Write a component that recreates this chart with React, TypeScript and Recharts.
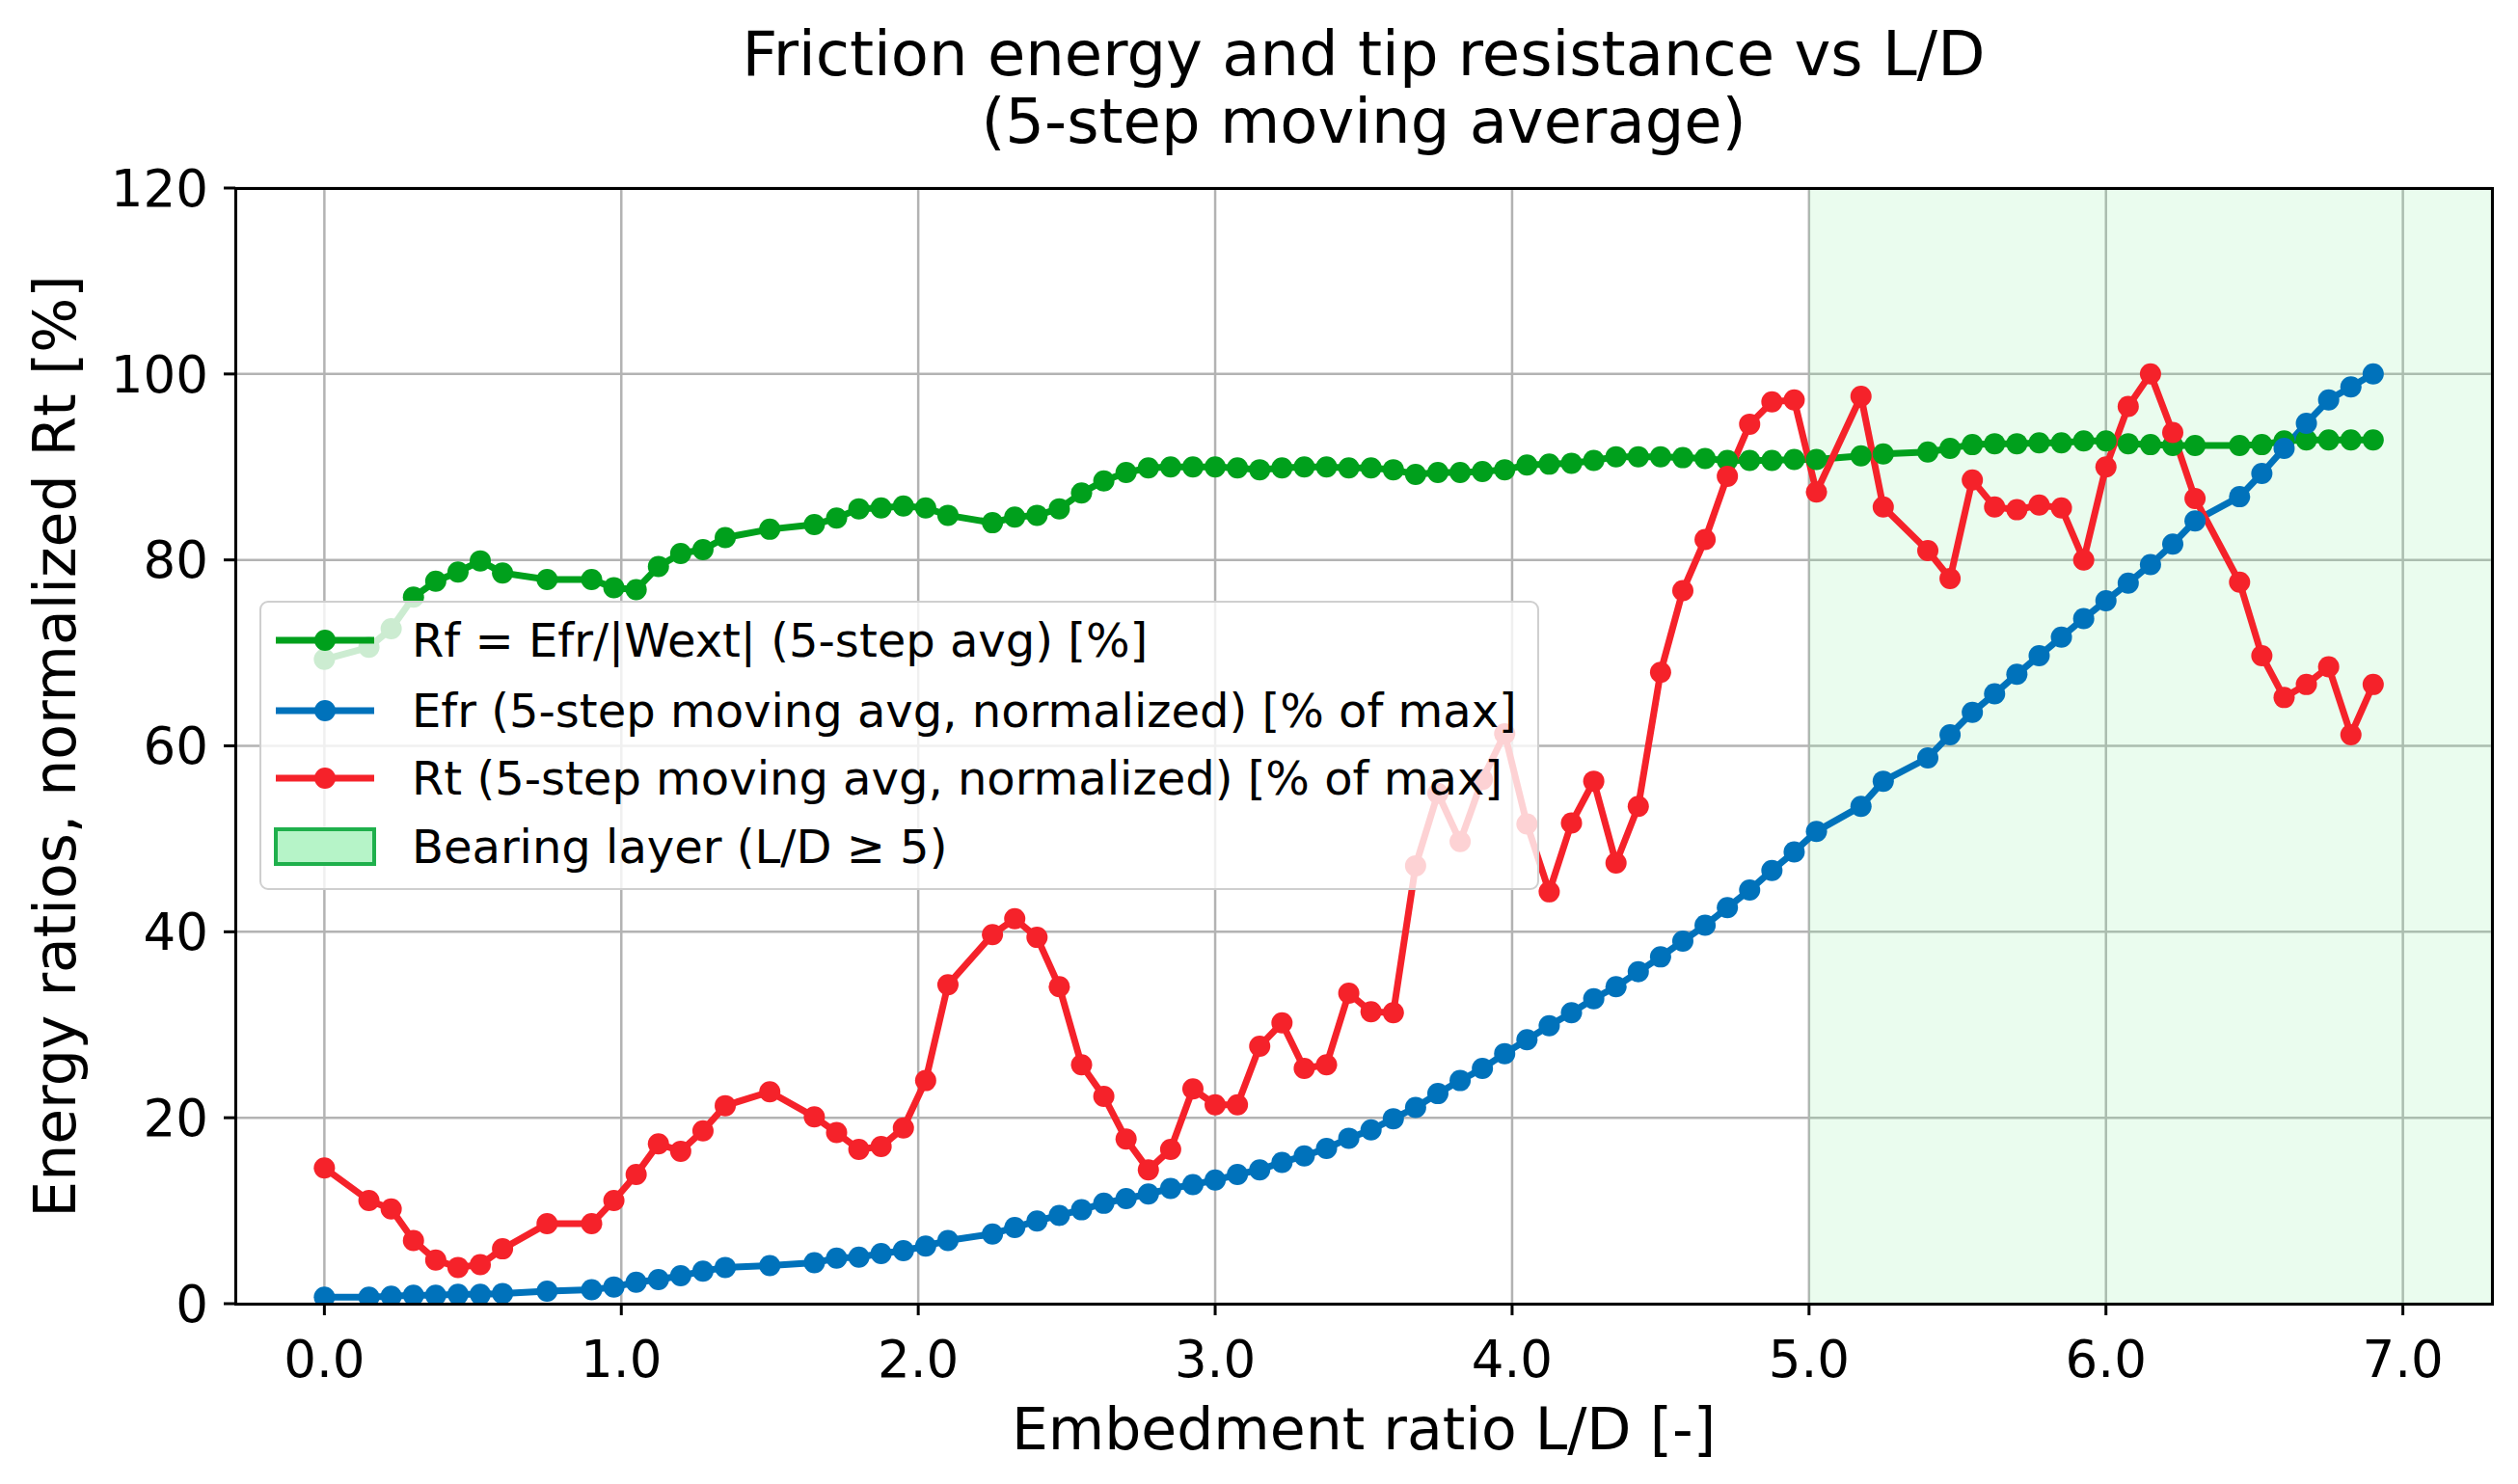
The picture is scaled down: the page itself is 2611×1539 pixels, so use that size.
import React from 'react';
import {
  ComposedChart,
  Line,
  XAxis,
  YAxis,
  CartesianGrid,
  ReferenceArea,
} from 'recharts';

// L/D positions of the samples (a few steps are missing in the record)
const ldValues: number[] = [
  0, 0.15, 0.225, 0.3, 0.375, 0.45, 0.525, 0.6, 0.75, 0.9, 0.975, 1.05, 1.125, 1.2, 1.275, 1.35,
  1.5, 1.65, 1.725, 1.8, 1.875, 1.95, 2.025, 2.1, 2.25, 2.325, 2.4, 2.475, 2.55, 2.625, 2.7, 2.775,
  2.85, 2.925, 3.0, 3.075, 3.15, 3.225, 3.3, 3.375, 3.45, 3.525, 3.6, 3.675, 3.75, 3.825, 3.9, 3.975,
  4.05, 4.125, 4.2, 4.275, 4.35, 4.425, 4.5, 4.575, 4.65, 4.725, 4.8, 4.875, 4.95, 5.025, 5.175, 5.25,
  5.4, 5.475, 5.55, 5.625, 5.7, 5.775, 5.85, 5.925, 6.0, 6.075, 6.15, 6.225, 6.3, 6.45, 6.525, 6.6,
  6.675, 6.75, 6.825, 6.9,
];

// Rf = Efr/|Wext| [%]
const rfValues: number[] = [
  69.3, 70.6, 72.6, 76.0, 77.7, 78.7, 79.9, 78.6, 77.9, 77.9, 77.0, 76.8, 79.3, 80.7, 81.1, 82.4,
  83.3, 83.8, 84.5, 85.5, 85.6, 85.8, 85.6, 84.8, 84.0, 84.6, 84.8, 85.5, 87.2, 88.5, 89.4, 89.9,
  90.0, 90.0, 90.0, 89.9, 89.7, 89.9, 90.0, 90.0, 89.9, 89.9, 89.7, 89.2, 89.4, 89.4, 89.5, 89.7,
  90.2, 90.3, 90.4, 90.7, 91.1, 91.1, 91.1, 91.0, 90.9, 90.7, 90.7, 90.7, 90.8, 90.8, 91.2, 91.4,
  91.6, 92.0, 92.4, 92.5, 92.5, 92.6, 92.6, 92.8, 92.8, 92.5, 92.4, 92.3, 92.3, 92.3, 92.4, 92.8,
  92.9, 92.9, 92.9, 92.9,
];

// Efr normalized [% of max]
const efrValues: number[] = [
  0.7, 0.7, 0.8, 0.9, 0.9, 1.0, 1.0, 1.1, 1.35, 1.5, 1.8, 2.3, 2.6, 3.0, 3.5, 3.9,
  4.1, 4.4, 4.9, 5.0, 5.4, 5.7, 6.2, 6.8, 7.5, 8.2, 8.9, 9.5, 10.1, 10.8, 11.3, 11.8,
  12.4, 12.8, 13.3, 13.9, 14.4, 15.2, 15.9, 16.7, 17.8, 18.7, 19.9, 21.1, 22.6, 24.0, 25.3, 26.9,
  28.4, 29.9, 31.3, 32.8, 34.1, 35.7, 37.3, 39.0, 40.7, 42.6, 44.5, 46.6, 48.6, 50.8, 53.5, 56.2,
  58.7, 61.2, 63.6, 65.6, 67.7, 69.7, 71.7, 73.7, 75.6, 77.5, 79.5, 81.7, 84.2, 86.8, 89.3, 92.0,
  94.7, 97.2, 98.6, 100,
];

// Rt normalized [% of max]
const rtValues: number[] = [
  14.6, 11.1, 10.2, 6.8, 4.7, 3.9, 4.2, 5.9, 8.6, 8.6, 11.1, 13.9, 17.2, 16.4, 18.6, 21.3,
  22.8, 20.1, 18.4, 16.6, 16.9, 18.9, 24.0, 34.3, 39.7, 41.4, 39.4, 34.1, 25.7, 22.3, 17.7, 14.4,
  16.6, 23.1, 21.4, 21.4, 27.7, 30.2, 25.3, 25.7, 33.4, 31.4, 31.3, 47.1, 54.9, 49.7, 56.4, 61.3,
  51.6, 44.3, 51.7, 56.2, 47.4, 53.5, 67.9, 76.7, 82.2, 89.0, 94.6, 97.0, 97.2, 87.3, 97.6, 85.7,
  81.0, 78.0, 88.6, 85.7, 85.4, 85.9, 85.6, 80.0, 90.0, 96.5, 100, 93.7, 86.6, 77.6, 69.7, 65.2,
  66.6, 68.5, 61.2, 66.6,
];

const xTicks: number[] = [0, 1, 2, 3, 4, 5, 6, 7];
const yTicks: number[] = [0, 20, 40, 60, 80, 100, 120];

const seriesList = [
  { key: 'rf', name: 'Rf = Efr/|Wext| (5-step avg) [%]', color: '#00a01c' },
  { key: 'efr', name: 'Efr (5-step moving avg, normalized) [% of max]', color: '#0072bb' },
  { key: 'rt', name: 'Rt (5-step moving avg, normalized) [% of max]', color: '#f5222a' },
];
const bearingLabel = 'Bearing layer (L/D \u2265 5)';

const chartData = ldValues.map((ld, i) => ({
  ld,
  rf: rfValues[i],
  efr: efrValues[i],
  rt: rtValues[i],
}));

const FONT = '"DejaVu Sans", Verdana, sans-serif';

// plot box in page pixels
const PLOT_LEFT = 244;
const PLOT_RIGHT = 2584;
const PLOT_TOP = 195;
const PLOT_BOTTOM = 1352;
const Y_AXIS_W = 200;
const X_AXIS_H = 100;
const W = 2611;
const H = 1539;

function LegendBox() {
  const rowTops = [39, 112, 182, 253];
  return (
    <div
      style={{
        position: 'absolute',
        left: 269,
        top: 623,
        width: 1327,
        height: 300,
        boxSizing: 'border-box',
        background: 'rgba(255,255,255,0.8)',
        border: '2.5px solid #cfcfcf',
        borderRadius: 9,
        fontFamily: FONT,
        fontSize: 48,
        color: '#000',
      }}
    >
      {seriesList.map((s, i) => (
        <div key={s.key} style={{ position: 'absolute', left: 13, top: rowTops[i] - 30, height: 60, display: 'flex', alignItems: 'center' }}>
          <svg width={106} height={40} style={{ display: 'block' }}>
            <line x1={2} y1={20} x2={104} y2={20} stroke={s.color} strokeWidth={7} />
            <circle cx={53} cy={20} r={11} fill={s.color} />
          </svg>
          <span style={{ marginLeft: 37, whiteSpace: 'nowrap', lineHeight: '60px' }}>{s.name}</span>
        </div>
      ))}
      <div style={{ position: 'absolute', left: 13, top: rowTops[3] - 30, height: 60, display: 'flex', alignItems: 'center' }}>
        <svg width={106} height={40} style={{ display: 'block' }}>
          <rect x={2} y={2} width={102} height={36} fill="#b6f4c8" stroke="#1fb04c" strokeWidth={4} />
        </svg>
        <span style={{ marginLeft: 37, whiteSpace: 'nowrap', lineHeight: '60px' }}>{bearingLabel}</span>
      </div>
    </div>
  );
}

export default function App() {
  const plotCenterX = (PLOT_LEFT + PLOT_RIGHT) / 2;
  const plotCenterY = (PLOT_TOP + PLOT_BOTTOM) / 2;
  return (
    <div style={{ position: 'absolute', left: 0, top: 0, width: W, height: H, background: '#fff', fontFamily: FONT }}>
      <ComposedChart
        width={W}
        height={H}
        data={chartData}
        margin={{
          top: PLOT_TOP,
          right: W - PLOT_RIGHT,
          bottom: H - PLOT_BOTTOM - X_AXIS_H,
          left: PLOT_LEFT - Y_AXIS_W,
        }}
      >
        <ReferenceArea x1={5} x2={7.3} y1={0} y2={120} fill="#8df0a0" fillOpacity={0.18} stroke="none" ifOverflow="hidden" />
        <CartesianGrid stroke="#b3b3b3" strokeWidth={2.5} />
        <XAxis
          dataKey="ld"
          type="number"
          domain={[-0.3, 7.3]}
          ticks={xTicks}
          allowDataOverflow
          height={X_AXIS_H}
          axisLine={false}
          tickLine={{ stroke: '#000', strokeWidth: 3 }}
          tickSize={12}
          tickMargin={26}
          tickFormatter={(v: number) => v.toFixed(1)}
          tick={{ fontSize: 53, fill: '#000', fontFamily: FONT }}
        />
        <YAxis
          type="number"
          domain={[0, 120]}
          ticks={yTicks}
          allowDataOverflow
          width={Y_AXIS_W}
          axisLine={false}
          tickLine={{ stroke: '#000', strokeWidth: 3 }}
          tickSize={12}
          tickMargin={16}
          tick={{ fontSize: 53, fill: '#000', fontFamily: FONT }}
        />
        {seriesList.map((s) => (
          <Line
            key={s.key}
            type="linear"
            dataKey={s.key}
            name={s.name}
            stroke={s.color}
            strokeWidth={7}
            dot={{ r: 11, fill: s.color, stroke: s.color, strokeWidth: 0 }}
            activeDot={false}
            isAnimationActive={false}
          />
        ))}
      </ComposedChart>

      {/* axes frame */}
      <div
        style={{
          position: 'absolute',
          left: PLOT_LEFT - 1.5,
          top: PLOT_TOP - 1.5,
          width: PLOT_RIGHT - PLOT_LEFT + 3,
          height: PLOT_BOTTOM - PLOT_TOP + 3,
          boxSizing: 'border-box',
          border: '3px solid #000',
          pointerEvents: 'none',
        }}
      />

      {/* title */}
      <div
        style={{
          position: 'absolute',
          left: plotCenterX - 1000,
          width: 2000,
          top: 21,
          textAlign: 'center',
          fontSize: 64,
          lineHeight: '70px',
          color: '#000',
        }}
      >
        <div>Friction energy and tip resistance vs L/D</div>
        <div>(5-step moving average)</div>
      </div>

      {/* x label */}
      <div
        style={{
          position: 'absolute',
          left: plotCenterX - 800,
          width: 1600,
          top: 1452,
          textAlign: 'center',
          fontSize: 60,
          lineHeight: '60px',
          color: '#000',
        }}
      >
        Embedment ratio L/D [-]
      </div>

      {/* y label */}
      <div
        style={{
          position: 'absolute',
          left: 57,
          top: plotCenterY,
          transform: 'translate(-50%, -50%) rotate(-90deg)',
          whiteSpace: 'nowrap',
          fontSize: 60,
          lineHeight: '60px',
          color: '#000',
        }}
      >
        Energy ratios, normalized Rt [%]
      </div>

      <LegendBox />
    </div>
  );
}
